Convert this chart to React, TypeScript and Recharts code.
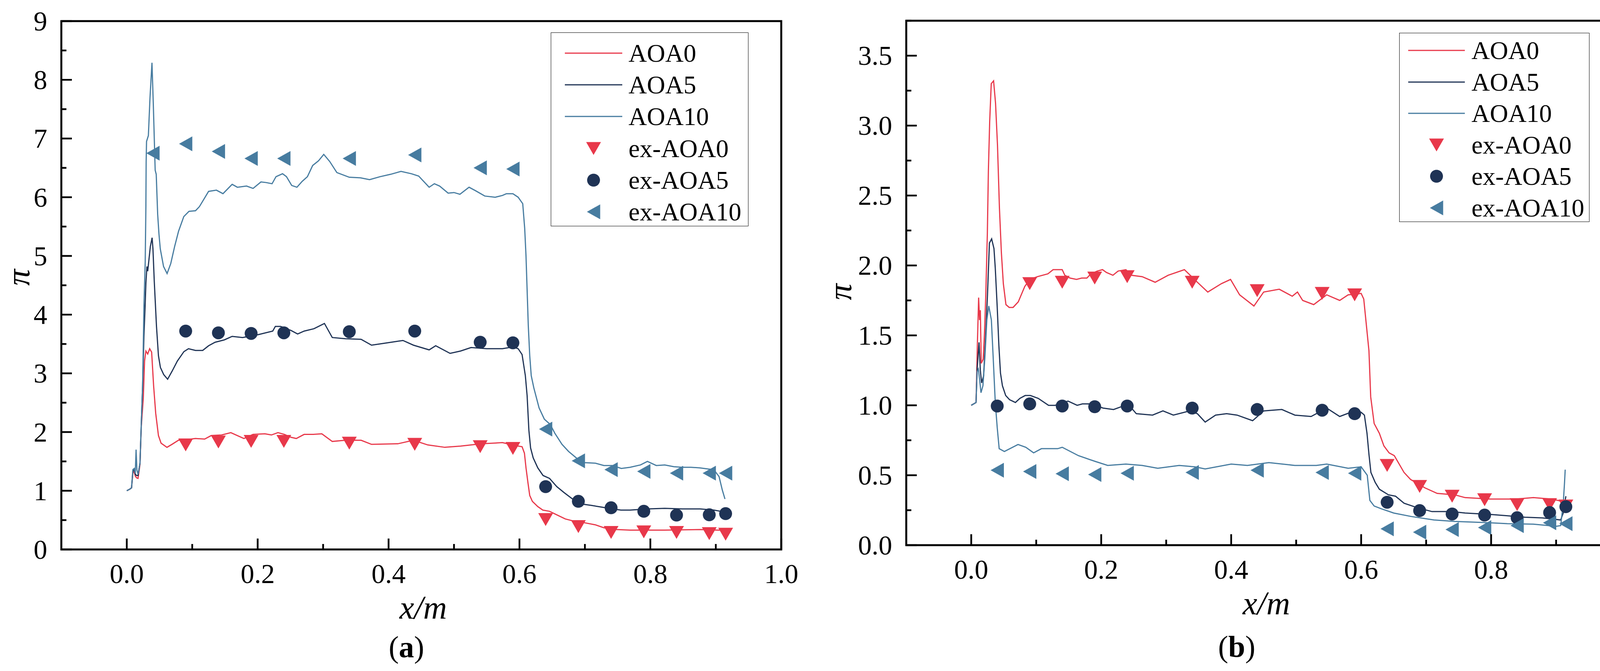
import React from 'react';
import { ComposedChart, Line, Scatter, XAxis, YAxis, ReferenceArea } from 'recharts';

const FONT = '"Liberation Serif", "Times New Roman", Times, serif';
const RED = '#E8384A';
const NAVY = '#1F3355';
const BLUE = '#477CA0';

type P = [number, number];

// ---------- shared ticks ----------
const X_TICKS = [0, 0.1, 0.2, 0.3, 0.4, 0.5, 0.6, 0.7, 0.8, 0.9, 1.0];
const Y_TICKS_A = [0, 0.5, 1, 1.5, 2, 2.5, 3, 3.5, 4, 4.5, 5, 5.5, 6, 6.5, 7, 7.5, 8, 8.5, 9];
const Y_TICKS_B = [0, 0.25, 0.5, 0.75, 1, 1.25, 1.5, 1.75, 2, 2.25, 2.5, 2.75, 3, 3.25, 3.5, 3.75];

// ---------- panel (a) simulation ----------
const simA_AOA0: P[] = [
  [0, 1.0], [0.005, 1.03], [0.0073, 1.05], [0.0093, 1.3], [0.0113, 1.33], [0.013, 1.25], [0.015, 1.22],
  [0.0172, 1.21], [0.0202, 1.45], [0.0222, 2.1], [0.0252, 2.57], [0.0272, 3.21], [0.0292, 3.38], [0.032, 3.33],
  [0.035, 3.42], [0.038, 3.36], [0.041, 2.79], [0.0442, 2.32], [0.0484, 1.94], [0.0524, 1.81], [0.0614, 1.74],
  [0.069, 1.79], [0.079, 1.86], [0.091, 1.87], [0.105, 1.89], [0.119, 1.88], [0.129, 1.94], [0.145, 1.95],
  [0.159, 1.99], [0.169, 1.94], [0.179, 1.89], [0.193, 1.96], [0.211, 1.97], [0.221, 1.95], [0.231, 1.99],
  [0.241, 1.96], [0.251, 1.91], [0.259, 1.89], [0.271, 1.96], [0.285, 1.96], [0.298, 1.97], [0.314, 1.84],
  [0.334, 1.86], [0.358, 1.86], [0.374, 1.79], [0.414, 1.8], [0.438, 1.86], [0.46, 1.78], [0.486, 1.74],
  [0.51, 1.76], [0.542, 1.8], [0.574, 1.82], [0.593, 1.77], [0.604, 1.75], [0.6076, 1.64], [0.61, 1.39],
  [0.613, 1.135], [0.6157, 0.92], [0.6197, 0.82], [0.628, 0.73], [0.6357, 0.67], [0.646, 0.65], [0.657, 0.59],
  [0.67, 0.52], [0.684, 0.48], [0.697, 0.46], [0.716, 0.42], [0.729, 0.37], [0.748, 0.34], [0.769, 0.33],
  [0.822, 0.33], [0.876, 0.34], [0.903, 0.33], [0.915, 0.33],
];
const simA_AOA5: P[] = [
  [0, 1.0], [0.005, 1.03], [0.0073, 1.05], [0.0093, 1.33], [0.0113, 1.36], [0.013, 1.28], [0.015, 1.26],
  [0.0172, 1.26], [0.0202, 1.47], [0.0222, 2.15], [0.0242, 2.78], [0.0262, 3.63], [0.028, 4.14], [0.0292, 4.53],
  [0.0308, 4.82], [0.032, 4.74], [0.034, 4.95], [0.036, 5.16], [0.0387, 5.31], [0.04, 5.12], [0.042, 4.57],
  [0.0454, 3.8], [0.0484, 3.3], [0.0514, 3.1], [0.0564, 2.98], [0.0624, 2.9], [0.0694, 3.04], [0.0773, 3.21],
  [0.0873, 3.37], [0.0943, 3.42], [0.105, 3.39], [0.116, 3.39], [0.125, 3.47], [0.135, 3.53], [0.149, 3.57],
  [0.161, 3.63], [0.177, 3.61], [0.201, 3.66], [0.223, 3.72], [0.227, 3.8], [0.235, 3.8], [0.251, 3.73],
  [0.261, 3.67], [0.271, 3.72], [0.286, 3.76], [0.302, 3.85], [0.314, 3.61], [0.334, 3.59], [0.358, 3.58],
  [0.374, 3.48], [0.398, 3.52], [0.422, 3.56], [0.438, 3.48], [0.462, 3.4], [0.472, 3.47], [0.494, 3.34],
  [0.51, 3.38], [0.526, 3.44], [0.55, 3.42], [0.574, 3.42], [0.59, 3.45], [0.598, 3.42], [0.604, 3.32],
  [0.609, 2.96], [0.6117, 2.62], [0.6144, 2.03], [0.617, 1.73], [0.621, 1.56], [0.628, 1.39], [0.636, 1.26],
  [0.646, 1.21], [0.657, 1.07], [0.668, 0.97], [0.681, 0.86], [0.694, 0.775], [0.71, 0.75], [0.726, 0.72],
  [0.742, 0.69], [0.755, 0.67], [0.769, 0.67], [0.796, 0.69], [0.822, 0.7], [0.849, 0.69], [0.876, 0.69],
  [0.897, 0.67], [0.9075, 0.65], [0.915, 0.62],
];
const simA_AOA10: P[] = [
  [0, 1.0], [0.005, 1.03], [0.0073, 1.05], [0.0093, 1.36], [0.0113, 1.38], [0.013, 1.3], [0.0142, 1.7],
  [0.0155, 1.35], [0.0172, 1.28], [0.0202, 1.47], [0.0222, 2.15], [0.0242, 2.78], [0.0262, 4.14], [0.0282, 4.91],
  [0.0292, 5.84], [0.0296, 6.6], [0.0302, 6.95], [0.033, 7.05], [0.0355, 7.7], [0.0385, 8.29], [0.0405, 7.6],
  [0.0434, 6.46], [0.045, 6.39], [0.0472, 5.71], [0.0492, 5.37], [0.0512, 5.12], [0.0562, 4.82], [0.0616, 4.7],
  [0.0672, 4.87], [0.0731, 5.16], [0.0791, 5.42], [0.0871, 5.67], [0.0951, 5.76], [0.105, 5.77], [0.111, 5.84],
  [0.118, 5.97], [0.125, 6.1], [0.137, 6.12], [0.147, 6.06], [0.161, 6.22], [0.169, 6.17], [0.183, 6.19],
  [0.193, 6.15], [0.205, 6.26], [0.213, 6.25], [0.222, 6.23], [0.228, 6.35], [0.238, 6.4], [0.244, 6.35],
  [0.252, 6.2], [0.26, 6.17], [0.268, 6.27], [0.276, 6.35], [0.284, 6.54], [0.293, 6.62], [0.301, 6.73],
  [0.31, 6.61], [0.321, 6.42], [0.34, 6.34], [0.357, 6.33], [0.371, 6.3], [0.387, 6.35], [0.403, 6.39],
  [0.419, 6.44], [0.435, 6.4], [0.446, 6.36], [0.462, 6.17], [0.47, 6.23], [0.478, 6.19], [0.491, 6.07],
  [0.5, 6.08], [0.509, 6.05], [0.523, 6.17], [0.533, 6.11], [0.547, 6.02], [0.563, 6.0], [0.574, 6.03],
  [0.58, 6.06], [0.59, 6.06], [0.598, 6.0], [0.605, 5.89], [0.608, 5.47], [0.61, 5.0], [0.612, 4.32],
  [0.6135, 3.81], [0.6157, 3.3], [0.618, 2.96], [0.622, 2.75], [0.63, 2.41], [0.638, 2.22], [0.647, 2.13],
  [0.654, 1.98], [0.665, 1.79], [0.675, 1.67], [0.689, 1.54], [0.699, 1.48], [0.716, 1.47], [0.729, 1.43],
  [0.742, 1.43], [0.7556, 1.38], [0.769, 1.4], [0.785, 1.44], [0.7955, 1.5], [0.809, 1.43], [0.822, 1.44],
  [0.836, 1.41], [0.849, 1.4], [0.862, 1.4], [0.8756, 1.39], [0.889, 1.37], [0.897, 1.36], [0.905, 1.24],
  [0.91, 1.01], [0.914, 0.86],
];

// ---------- panel (a) experiment ----------
const expA_AOA0: P[] = [
  [0.09, 1.78], [0.14, 1.83], [0.19, 1.84], [0.24, 1.84], [0.34, 1.81], [0.44, 1.79], [0.54, 1.75], [0.59, 1.72],
  [0.64, 0.51], [0.69, 0.39], [0.74, 0.29], [0.79, 0.3], [0.84, 0.29], [0.89, 0.27], [0.915, 0.26],
];
const expA_AOA5: P[] = [
  [0.09, 3.72], [0.14, 3.69], [0.19, 3.68], [0.24, 3.69], [0.34, 3.71], [0.44, 3.72], [0.54, 3.53], [0.59, 3.52],
  [0.64, 1.07], [0.69, 0.82], [0.74, 0.71], [0.79, 0.65], [0.84, 0.585], [0.89, 0.59], [0.915, 0.61],
];
const expA_AOA10: P[] = [
  [0.04, 6.75], [0.09, 6.91], [0.14, 6.78], [0.19, 6.66], [0.24, 6.66], [0.34, 6.66], [0.44, 6.72], [0.54, 6.5],
  [0.59, 6.48], [0.64, 2.05], [0.69, 1.51], [0.74, 1.36], [0.79, 1.33], [0.84, 1.3], [0.89, 1.3], [0.915, 1.3],
];

// ---------- panel (b) simulation ----------
const simB_AOA0: P[] = [
  [0, 1.0], [0.0074, 1.02], [0.0094, 1.43], [0.0114, 1.77], [0.0128, 1.61], [0.014, 1.68], [0.0154, 1.3],
  [0.0184, 1.33], [0.0204, 1.52], [0.0224, 1.79], [0.0248, 2.23], [0.0264, 2.68], [0.0284, 3.03], [0.0308, 3.3],
  [0.0344, 3.32], [0.0374, 3.16], [0.0404, 2.86], [0.0434, 2.41], [0.0464, 2.09], [0.0494, 1.87], [0.0534, 1.72],
  [0.0584, 1.7], [0.0644, 1.7], [0.0724, 1.74], [0.0824, 1.85], [0.09, 1.9], [0.102, 1.92], [0.118, 1.94],
  [0.126, 1.97], [0.14, 1.97], [0.144, 1.93], [0.152, 1.91], [0.162, 1.9], [0.17, 1.91], [0.178, 1.91],
  [0.184, 1.94], [0.194, 1.96], [0.202, 1.97], [0.208, 1.95], [0.218, 1.93], [0.226, 1.96], [0.238, 1.97],
  [0.246, 1.93], [0.263, 1.92], [0.283, 1.88], [0.303, 1.93], [0.328, 1.97], [0.348, 1.88], [0.364, 1.81],
  [0.385, 1.87], [0.399, 1.9], [0.413, 1.79], [0.435, 1.71], [0.45, 1.81], [0.474, 1.83], [0.494, 1.78],
  [0.502, 1.81], [0.51, 1.75], [0.527, 1.72], [0.547, 1.79], [0.567, 1.75], [0.58, 1.79], [0.6, 1.8],
  [0.604, 1.76], [0.612, 1.39], [0.6147, 1.06], [0.62, 0.87], [0.628, 0.8], [0.635, 0.71], [0.643, 0.66],
  [0.651, 0.64], [0.666, 0.52], [0.676, 0.47], [0.698, 0.41], [0.717, 0.37], [0.744, 0.36], [0.76, 0.34],
  [0.798, 0.33], [0.838, 0.33], [0.865, 0.34], [0.892, 0.33], [0.913, 0.31],
];
const simB_AOA5: P[] = [
  [0, 1.0], [0.0074, 1.02], [0.009, 1.25], [0.012, 1.45], [0.014, 1.25], [0.016, 1.16], [0.019, 1.21],
  [0.022, 1.48], [0.025, 1.79], [0.028, 2.16], [0.0314, 2.19], [0.035, 2.12], [0.037, 1.98], [0.04, 1.7],
  [0.0425, 1.43], [0.045, 1.23], [0.048, 1.14], [0.053, 1.07], [0.059, 1.04], [0.068, 1.02], [0.075, 1.05],
  [0.083, 1.07], [0.091, 1.07], [0.103, 1.05], [0.119, 1.0], [0.129, 1.0], [0.149, 1.03], [0.163, 1.0],
  [0.171, 1.01], [0.183, 1.01], [0.203, 0.98], [0.219, 0.97], [0.231, 0.99], [0.243, 1.0], [0.254, 0.94],
  [0.279, 0.93], [0.295, 0.96], [0.311, 0.93], [0.336, 0.96], [0.348, 0.94], [0.36, 0.88], [0.376, 0.93],
  [0.393, 0.94], [0.409, 0.93], [0.433, 0.89], [0.45, 0.96], [0.478, 0.97], [0.498, 0.93], [0.523, 0.92],
  [0.547, 0.98], [0.567, 0.92], [0.584, 0.95], [0.6, 0.95], [0.605, 0.93], [0.609, 0.8], [0.612, 0.65],
  [0.615, 0.52], [0.6215, 0.45], [0.628, 0.4], [0.642, 0.36], [0.653, 0.35], [0.666, 0.3], [0.685, 0.27],
  [0.709, 0.24], [0.739, 0.24], [0.76, 0.23], [0.798, 0.22], [0.825, 0.21], [0.852, 0.2], [0.879, 0.195],
  [0.907, 0.18], [0.911, 0.23], [0.915, 0.35],
];
const simB_AOA10: P[] = [
  [0, 1.0], [0.0074, 1.02], [0.009, 1.24], [0.011, 1.26], [0.013, 1.18], [0.015, 1.09], [0.018, 1.14],
  [0.021, 1.34], [0.024, 1.61], [0.027, 1.71], [0.029, 1.66], [0.031, 1.61], [0.034, 1.32], [0.037, 1.02],
  [0.04, 0.84], [0.043, 0.69], [0.051, 0.67], [0.072, 0.72], [0.084, 0.7], [0.096, 0.66], [0.108, 0.69],
  [0.133, 0.69], [0.14, 0.7], [0.165, 0.64], [0.19, 0.6], [0.21, 0.57], [0.238, 0.58], [0.263, 0.57],
  [0.287, 0.55], [0.32, 0.57], [0.344, 0.56], [0.36, 0.545], [0.4, 0.58], [0.425, 0.57], [0.458, 0.59],
  [0.498, 0.57], [0.531, 0.57], [0.547, 0.58], [0.58, 0.55], [0.6, 0.56], [0.6094, 0.5], [0.6134, 0.32],
  [0.62, 0.28], [0.631, 0.26], [0.65, 0.23], [0.677, 0.205], [0.712, 0.18], [0.744, 0.17], [0.784, 0.163],
  [0.825, 0.154], [0.865, 0.15], [0.9, 0.135], [0.907, 0.14], [0.911, 0.3], [0.913, 0.45], [0.914, 0.54],
];

// ---------- panel (b) experiment ----------
const expB_AOA0: P[] = [
  [0.09, 1.87], [0.14, 1.88], [0.19, 1.91], [0.24, 1.92], [0.34, 1.88], [0.44, 1.82], [0.54, 1.8], [0.59, 1.79],
  [0.64, 0.57], [0.69, 0.42], [0.74, 0.35], [0.79, 0.325], [0.84, 0.29], [0.89, 0.29], [0.915, 0.28],
];
const expB_AOA5: P[] = [
  [0.04, 0.995], [0.09, 1.01], [0.14, 0.995], [0.19, 0.99], [0.24, 0.995], [0.34, 0.98], [0.44, 0.97], [0.54, 0.965],
  [0.59, 0.94], [0.64, 0.307], [0.69, 0.247], [0.74, 0.223], [0.79, 0.215], [0.84, 0.196], [0.89, 0.233], [0.915, 0.275],
];
const expB_AOA10: P[] = [
  [0.04, 0.536], [0.09, 0.527], [0.14, 0.511], [0.19, 0.505], [0.24, 0.514], [0.34, 0.52], [0.44, 0.536], [0.54, 0.52],
  [0.59, 0.514], [0.64, 0.117], [0.69, 0.093], [0.74, 0.112], [0.79, 0.126], [0.84, 0.14], [0.89, 0.16], [0.915, 0.154],
];

const LEGEND_ITEMS = [
  { name: 'AOA0', kind: 'line', color: RED },
  { name: 'AOA5', kind: 'line', color: NAVY },
  { name: 'AOA10', kind: 'line', color: BLUE },
  { name: 'ex-AOA0', kind: 'down', color: RED },
  { name: 'ex-AOA5', kind: 'circle', color: NAVY },
  { name: 'ex-AOA10', kind: 'left', color: BLUE },
];

const pts = (arr: P[]) => arr.map(([x, y]) => ({ x, y }));

const marker = (kind: string, cx: number, cy: number, color: string) => {
  if (kind === 'down') {
    return <polygon points={`${cx - 19},${cy - 16.5} ${cx + 19},${cy - 16.5} ${cx},${cy + 16.5}`} fill={color} />;
  }
  if (kind === 'left') {
    return <polygon points={`${cx + 17},${cy - 19} ${cx + 17},${cy + 19} ${cx - 17},${cy}`} fill={color} />;
  }
  return <circle cx={cx} cy={cy} r={16.5} fill={color} />;
};

const shapeOf = (kind: string, color: string) => (props: any) => {
  const { cx, cy } = props;
  if (cx == null || cy == null || isNaN(cx) || isNaN(cy)) return <g />;
  return marker(kind, cx, cy, color);
};

const TICK_FS = 70;

const xTick = (props: any) => {
  const { x, y, payload } = props;
  const v = payload.value as number;
  const major = Math.abs(v * 5 - Math.round(v * 5)) < 1e-6;
  return (
    <g>
      <line x1={x} x2={x} y1={y} y2={y - (major ? 28 : 14)} stroke="#000" strokeWidth={4.5} />
      {major && (
        <text x={x} y={y + 86} textAnchor="middle" fontFamily={FONT} fontSize={TICK_FS} fill="#000">
          {v.toFixed(1)}
        </text>
      )}
    </g>
  );
};

const makeYTick = (isMajor: (v: number) => boolean, fmt: (v: number) => string) => (props: any) => {
  const { x, y, payload } = props;
  const v = payload.value as number;
  const major = isMajor(v);
  return (
    <g>
      <line x1={x} x2={x + (major ? 27 : 13)} y1={y} y2={y} stroke="#000" strokeWidth={4.5} />
      {major && (
        <text x={x - 36} y={y + 24} textAnchor="end" fontFamily={FONT} fontSize={TICK_FS} fill="#000">
          {fmt(v)}
        </text>
      )}
    </g>
  );
};

type LegendGeom = { left: number; top: number; w: number; h: number; first: number; step: number; iconL: number; iconW: number; textL: number };

const LegendBox = ({ g }: { g: LegendGeom }) => (
  <div style={{ position: 'absolute', left: g.left, top: g.top, width: g.w, height: g.h, border: '1.5px solid #000', boxSizing: 'border-box', background: '#fff', fontFamily: FONT, overflow: 'hidden' }}>
    {LEGEND_ITEMS.map((it, i) => (
      <div key={it.name} style={{ position: 'absolute', left: 0, top: g.first + i * g.step - 35, height: 70, width: '100%' }}>
        <svg width={g.iconW} height={70} style={{ position: 'absolute', left: g.iconL, top: 0 }}>
          {it.kind === 'line'
            ? <line x1={0} x2={g.iconW} y1={35} y2={35} stroke={it.color} strokeWidth={3} />
            : marker(it.kind, g.iconW / 2, 35, it.color)}
        </svg>
        <span style={{ position: 'absolute', left: g.textL, top: 0, height: 70, lineHeight: '70px', fontSize: 65, color: '#000', whiteSpace: 'nowrap' }}>
          {it.name}
        </span>
      </div>
    ))}
  </div>
);

type PanelCfg = {
  left: number;
  width: number;
  plotLeft: number;   // space reserved left of plot (y axis)
  plotRight: number;  // space reserved right of plot
  top: number;
  bottom: number;
  yMax: number;
  yTicks: number[];
  isMajor: (v: number) => boolean;
  fmt: (v: number) => string;
  sim: P[][];
  exp: P[][];
  legend: LegendGeom;
  tag: string;
  xmDx: number;
  tagDx: number;
  tagDy: number;
  piDx: number;
  piDy: number;
};

const Panel = ({ c }: { c: PanelCfg }) => {
  const colors = [RED, NAVY, BLUE];
  const kinds = ['down', 'circle', 'left'];
  const names = ['AOA0', 'AOA5', 'AOA10'];
  const xLabel = (lp: any) => {
    const vb = lp.viewBox || {};
    const cx = (vb.x ?? 0) + (vb.width ?? 0) / 2;
    const top = vb.y ?? 0;
    return (
      <g>
        <text x={cx + c.xmDx} y={top + 177} textAnchor="middle" fontFamily={FONT} fontStyle="italic" fontSize={84} fill="#000">x/m</text>
        <text x={cx + c.tagDx} y={top + c.tagDy} textAnchor="middle" fontFamily={FONT} fontSize={78} fill="#000">
          (<tspan fontWeight="bold">{c.tag}</tspan>)
        </text>
      </g>
    );
  };
  const yLabel = (lp: any) => {
    const vb = lp.viewBox || {};
    const cx = (vb.x ?? 0) + (vb.width ?? 0) + c.piDx;
    const cy = (vb.y ?? 0) + (vb.height ?? 0) / 2 + c.piDy;
    return (
      <text x={cx} y={cy} dy="0.23em" transform={`rotate(-90 ${cx} ${cy})`} textAnchor="middle" fontFamily={FONT} fontStyle="italic" fontSize={84} fill="#000">π</text>
    );
  };
  return (
    <div style={{ position: 'absolute', left: c.left, top: 0, width: c.width, height: 1717 }}>
      <ComposedChart width={c.width} height={1717} margin={{ top: c.top, right: 0, bottom: 1717 - c.bottom - 100, left: 0 }}>
        <XAxis
          type="number" dataKey="x" domain={[-0.1, 1]} ticks={X_TICKS} interval={0} allowDataOverflow
          axisLine={false} tickLine={false} tickSize={0} tickMargin={0} height={100}
          tick={xTick} label={xLabel}
        />
        <YAxis
          yAxisId="main" type="number" domain={[0, c.yMax]} ticks={c.yTicks} interval={0} allowDataOverflow
          axisLine={false} tickLine={false} tickSize={0} tickMargin={0} width={c.plotLeft}
          tick={makeYTick(c.isMajor, c.fmt)} label={yLabel}
        />
        <YAxis
          yAxisId="pad" orientation="right" type="number" domain={[0, c.yMax]} ticks={[]}
          axisLine={false} tickLine={false} tick={false} width={c.plotRight}
        />
        {c.sim.map((s, i) => (
          <Line key={names[i]} yAxisId="main" data={pts(s)} dataKey="y" name={names[i]} type="linear" stroke={colors[i]} strokeWidth={3}
            dot={false} activeDot={false} isAnimationActive={false} />
        ))}
        {c.exp.map((s, i) => (
          <Scatter key={'ex-' + names[i]} yAxisId="main" data={pts(s)} dataKey="y" name={'ex-' + names[i]} fill={colors[i]}
            shape={shapeOf(kinds[i], colors[i])} isAnimationActive={false} />
        ))}
        <ReferenceArea yAxisId="main" x1={-0.1} x2={1} y1={0} y2={c.yMax} fill="none" fillOpacity={0} stroke="#000" strokeWidth={5} ifOverflow="visible" />
      </ComposedChart>
      <LegendBox g={c.legend} />
    </div>
  );
};

const panelA: PanelCfg = {
  left: 0,
  width: 2100,
  plotLeft: 157,
  plotRight: 100,
  top: 54,
  bottom: 1406,
  yMax: 9,
  yTicks: Y_TICKS_A,
  isMajor: (v) => Math.abs(v - Math.round(v)) < 1e-6,
  fmt: (v) => String(v),
  sim: [simA_AOA0, simA_AOA5, simA_AOA10],
  exp: [expA_AOA0, expA_AOA5, expA_AOA10],
  legend: { left: 1410, top: 83, w: 506, h: 496, first: 52, step: 81.2, iconL: 35, iconW: 147, textL: 198 },
  tag: 'a',
  xmDx: 5,
  tagDx: -38,
  tagDy: 276,
  piDx: -101,
  piDy: -20,
};

const panelB: PanelCfg = {
  left: 2100,
  width: 2119,
  plotLeft: 220,
  plotRight: 69,
  top: 53,
  bottom: 1395,
  yMax: 3.75,
  yTicks: Y_TICKS_B,
  isMajor: (v) => Math.abs(v * 2 - Math.round(v * 2)) < 1e-6,
  fmt: (v) => v.toFixed(1),
  sim: [simB_AOA0, simB_AOA5, simB_AOA10],
  exp: [expB_AOA0, expB_AOA5, expB_AOA10],
  legend: { left: 1482, top: 84, w: 487, h: 484, first: 44, step: 80.6, iconL: 22, iconW: 145, textL: 184 },
  tag: 'b',
  xmDx: 7,
  tagDx: -69,
  tagDy: 286,
  piDx: -160,
  piDy: 23,
};

export default function App() {
  return (
    <div style={{ position: 'absolute', left: 0, top: 0, width: 4219, height: 1717, background: '#fff', fontFamily: FONT, overflow: 'hidden' }}>
      <Panel c={panelA} />
      <Panel c={panelB} />
    </div>
  );
}
